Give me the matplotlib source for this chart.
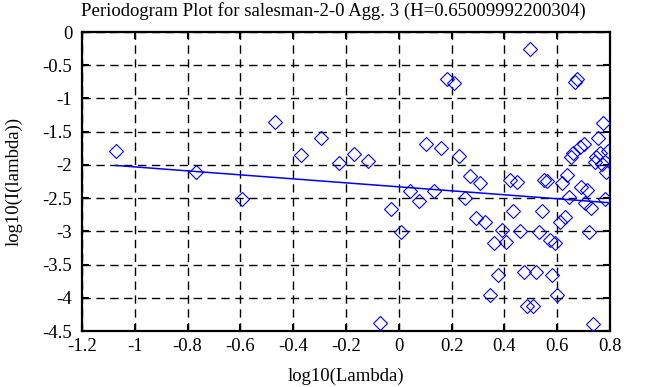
import matplotlib
matplotlib.use("Agg")
import matplotlib.pyplot as plt
from matplotlib.ticker import FuncFormatter, MultipleLocator

plt.rcParams['font.family'] = ['Liberation Serif', 'DejaVu Serif']
plt.rcParams['axes.unicode_minus'] = False

title = "Periodogram Plot for salesman-2-0 Agg. 3 (H=0.65009992200304)"

# log10 of the Fourier frequencies
log_lambda = [-1.071, -0.770, -0.594, -0.469, -0.372, -0.293, -0.226, -0.168, -0.117, -0.071,
              -0.030, 0.008, 0.043, 0.075, 0.105, 0.133, 0.159, 0.184, 0.208, 0.230,
              0.251, 0.271, 0.291, 0.309, 0.327, 0.344, 0.360, 0.376, 0.391, 0.406,
              0.420, 0.434, 0.447, 0.460, 0.473, 0.485, 0.497, 0.509, 0.520, 0.531,
              0.542, 0.552, 0.562, 0.572, 0.582, 0.592, 0.601, 0.610, 0.619, 0.628,
              0.637, 0.645, 0.653, 0.661, 0.669, 0.677, 0.685, 0.692, 0.700, 0.707,
              0.714, 0.721, 0.728, 0.735, 0.742, 0.748, 0.755, 0.761, 0.768, 0.774,
              0.780, 0.786, 0.792]

# log10 of the periodogram
log_I = [-1.79, -2.10, -2.52, -1.36, -1.85, -1.60, -1.97, -1.83, -1.94, -4.38,
         -2.66, -3.01, -2.39, -2.55, -1.69, -2.39, -1.74, -0.71, -0.77, -1.87,
         -2.50, -2.16, -2.80, -2.28, -2.86, -3.96, -3.17, -3.65, -2.98, -3.16,
         -2.23, -2.69, -2.25, -3.00, -3.61, -4.12, -0.25, -4.12, -3.61, -3.01,
         -2.70, -2.23, -2.24, -3.13, -3.65, -3.17, -3.96, -2.86, -2.28, -2.79,
         -2.15, -2.49, -1.88, -1.82, -0.75, -0.71, -1.73, -2.34, -1.68, -2.58,
         -2.38, -3.01, -2.65, -4.39, -1.95, -1.88, -1.60, -1.82, -1.98, -1.37,
         -2.52, -2.10, -1.79]

# least squares fit line (slope = 1 - 2H)
fit_slope = -0.30
fit_intercept = -2.33

fig = plt.figure(figsize=(6.58, 3.87), dpi=100)
ax = fig.add_axes([0.1246, 0.1447, 0.8024, 0.7726])

ax.plot(log_lambda, log_I, linestyle='none', marker='D', markersize=7.3,
        markerfacecolor='none', markeredgecolor='#0000ff', markeredgewidth=0.8, zorder=3)

fx = [log_lambda[0], log_lambda[-1]]
fy = [fit_intercept + fit_slope * v for v in fx]
ax.plot(fx, fy, color='#0000ff', lw=1.1, zorder=4)

ax.set_xlim(-1.2, 0.8)
ax.set_ylim(-4.5, 0)
ax.xaxis.set_major_locator(MultipleLocator(0.2))
ax.yaxis.set_major_locator(MultipleLocator(0.5))
fmt = FuncFormatter(lambda v, p: '%g' % round(v, 6))
ax.xaxis.set_major_formatter(fmt)
ax.yaxis.set_major_formatter(fmt)

ax.grid(True, color='black', linestyle=(0, (6, 4)), linewidth=1.0)
ax.tick_params(direction='in', length=5, width=1.5, top=True, right=True,
               labelsize=13.5, colors='black')
ax.tick_params(axis='y', pad=7)
ax.tick_params(axis='x', pad=5)
for s in ax.spines.values():
    s.set_linewidth(1.6)

ax.set_xlabel("log10(Lambda)", fontsize=13.5, labelpad=9)
ax.set_ylabel("log10(I(lambda))", fontsize=13.5)
ax.yaxis.set_label_coords(-0.113, 0.5)
fig.text(0.506, 0.972, title, ha='center', va='center', fontsize=13.5)

fig.savefig('out.png', dpi=100)
